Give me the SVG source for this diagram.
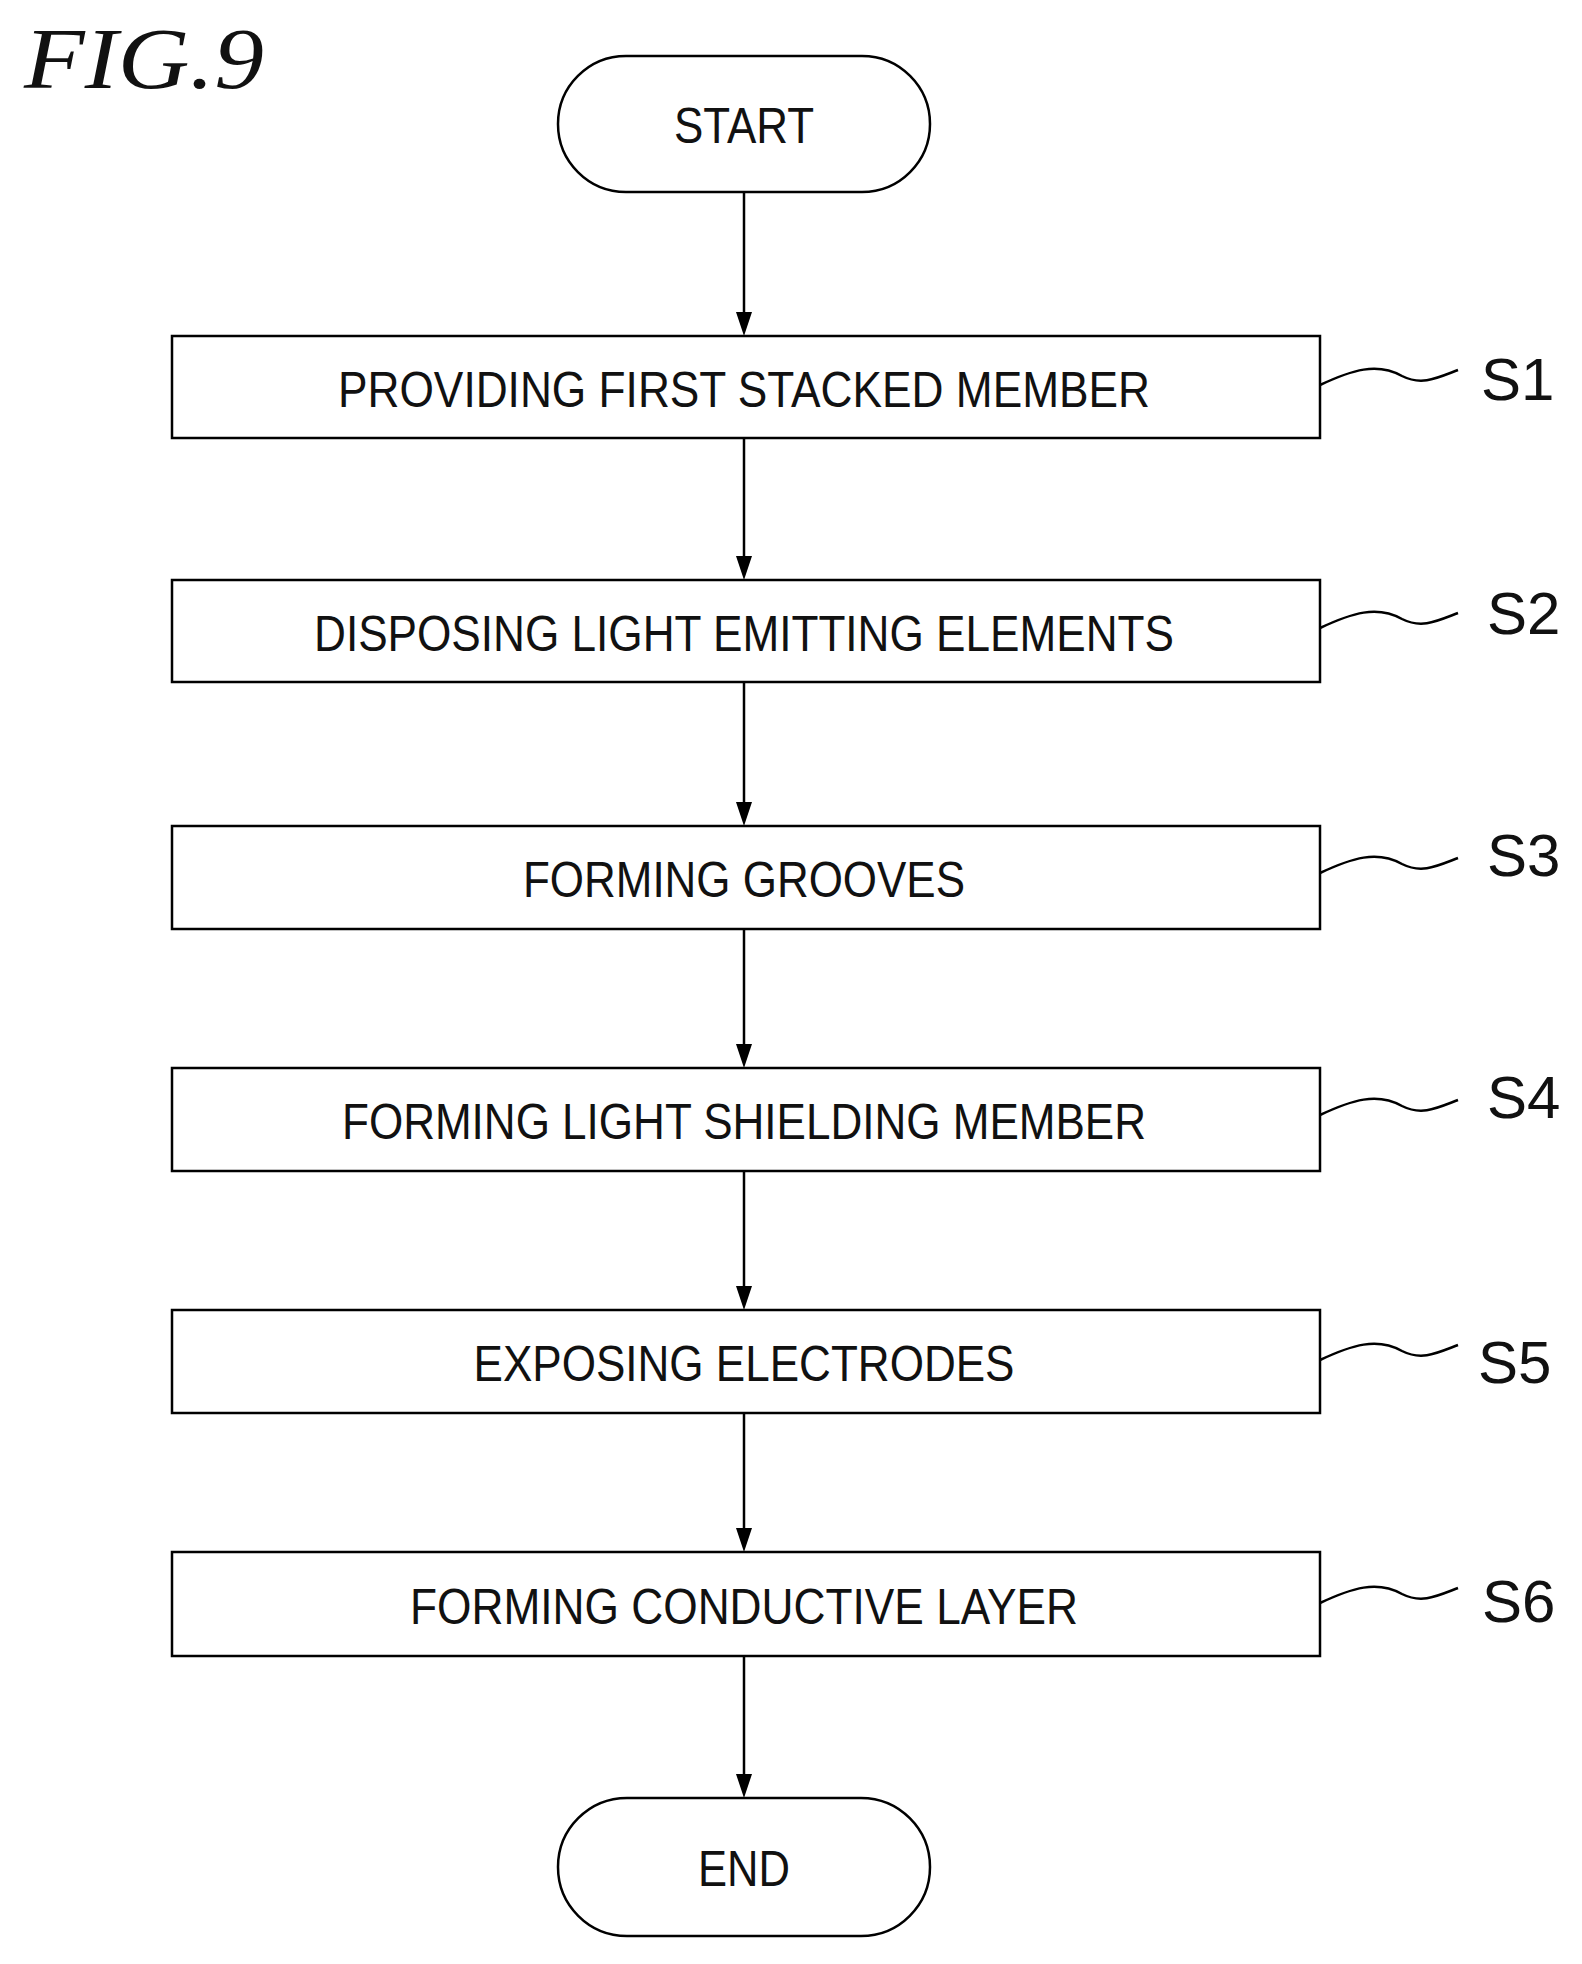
<svg xmlns="http://www.w3.org/2000/svg" width="1582" height="1964" viewBox="0 0 1582 1964">
<style>
.n{fill:#fff;stroke:#000;stroke-width:2.5}
.t{font-family:"Liberation Sans",Arial,sans-serif;font-size:50px;text-anchor:middle;fill:#111}
.l{font-family:"Liberation Sans",Arial,sans-serif;font-size:60px;fill:#111}
.c{stroke:#000;stroke-width:2.5;fill:none}
</style>
<rect width="1582" height="1964" fill="#fff"/>
<text x="24" y="88" font-family="'Liberation Serif',serif" font-style="italic" font-size="86" fill="#111" textLength="240" lengthAdjust="spacingAndGlyphs">FIG.9</text>
<g id="connectors">
<line class="c" x1="744" y1="192" x2="744" y2="318"/>
<line class="c" x1="744" y1="438" x2="744" y2="562"/>
<line class="c" x1="744" y1="682" x2="744" y2="808"/>
<line class="c" x1="744" y1="929" x2="744" y2="1050"/>
<line class="c" x1="744" y1="1171" x2="744" y2="1292"/>
<line class="c" x1="744" y1="1413" x2="744" y2="1534"/>
<line class="c" x1="744" y1="1656" x2="744" y2="1780"/>
<g fill="#000"><path d="M736,312 L752,312 L744,336 Z"/><path d="M736,556 L752,556 L744,580 Z"/><path d="M736,802 L752,802 L744,826 Z"/><path d="M736,1044 L752,1044 L744,1068 Z"/><path d="M736,1286 L752,1286 L744,1310 Z"/><path d="M736,1528 L752,1528 L744,1552 Z"/><path d="M736,1774 L752,1774 L744,1798 Z"/></g>
<g class="c" stroke-width="2">
<path d="M1320,385 C1352,370 1377,362 1402,376 C1422,386 1437,378 1458,370"/>
<path d="M1320,628 C1352,613 1377,605 1402,619 C1422,629 1437,621 1458,613"/>
<path d="M1320,873 C1352,858 1377,850 1402,864 C1422,874 1437,866 1458,858"/>
<path d="M1320,1115 C1352,1100 1377,1092 1402,1106 C1422,1116 1437,1108 1458,1100"/>
<path d="M1320,1360 C1352,1345 1377,1337 1402,1351 C1422,1361 1437,1353 1458,1345"/>
<path d="M1320,1603 C1352,1588 1377,1580 1402,1594 C1422,1604 1437,1596 1458,1588"/>
</g>
</g>
<g id="start"><rect class="n" x="558" y="56" width="372" height="136" rx="68"/><text class="t" x="744" y="143" textLength="140" lengthAdjust="spacingAndGlyphs">START</text></g>
<g id="s1"><rect class="n" x="172" y="336" width="1148" height="102"/><text class="t" x="744" y="407" textLength="812" lengthAdjust="spacingAndGlyphs">PROVIDING FIRST STACKED MEMBER</text><text class="l" x="1481" y="400">S1</text></g>
<g id="s2"><rect class="n" x="172" y="580" width="1148" height="102"/><text class="t" x="744" y="651" textLength="860" lengthAdjust="spacingAndGlyphs">DISPOSING LIGHT EMITTING ELEMENTS</text><text class="l" x="1487" y="634">S2</text></g>
<g id="s3"><rect class="n" x="172" y="826" width="1148" height="103"/><text class="t" x="744" y="897" textLength="442" lengthAdjust="spacingAndGlyphs">FORMING GROOVES</text><text class="l" x="1487" y="876">S3</text></g>
<g id="s4"><rect class="n" x="172" y="1068" width="1148" height="103"/><text class="t" x="744" y="1139" textLength="804" lengthAdjust="spacingAndGlyphs">FORMING LIGHT SHIELDING MEMBER</text><text class="l" x="1487" y="1118">S4</text></g>
<g id="s5"><rect class="n" x="172" y="1310" width="1148" height="103"/><text class="t" x="744" y="1381" textLength="541" lengthAdjust="spacingAndGlyphs">EXPOSING ELECTRODES</text><text class="l" x="1478" y="1383">S5</text></g>
<g id="s6"><rect class="n" x="172" y="1552" width="1148" height="104"/><text class="t" x="744" y="1624" textLength="668" lengthAdjust="spacingAndGlyphs">FORMING CONDUCTIVE LAYER</text><text class="l" x="1482" y="1622">S6</text></g>
<g id="end"><rect class="n" x="558" y="1798" width="372" height="138" rx="69"/><text class="t" x="744" y="1886" textLength="92" lengthAdjust="spacingAndGlyphs">END</text></g>
</svg>
